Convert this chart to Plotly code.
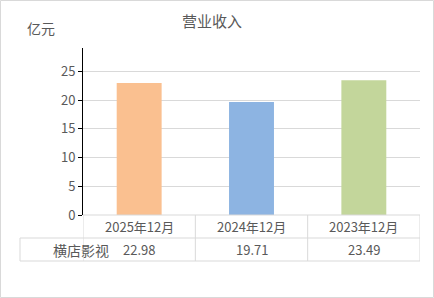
import plotly.graph_objects as go

categories = ["2025年12月", "2024年12月", "2023年12月"]
values = [22.98, 19.71, 23.49]
value_labels = ["22.98", "19.71", "23.49"]
series_name = "横店影视"
colors = ["#FAC090", "#8DB4E2", "#C3D69B"]
title = "营业收入"
unit = "亿元"
y_ticks = [0, 5, 10, 15, 20, 25]

W, H = 434, 298
L, R, T, B = 83, 14, 48, 83
pw, ph = W - L - R, H - T - B

def px(x):
    return (x - L) / pw

def py(y):
    return (H - B - y) / ph

font = "Microsoft YaHei, Noto Sans CJK SC, sans-serif"
grey = "#595959"
line = "#D9D9D9"

xs = list(range(len(categories)))
fig = go.Figure(go.Bar(x=xs, y=values, marker_color=colors, width=0.4,
                       marker_line_width=0, hoverinfo="skip"))

shapes = []
annotations = []
row1, row2, row3 = H - B, H - B + 23, H - B + 46
# horizontal table lines
shapes.append(dict(type="line", xref="paper", yref="paper", x0=0, x1=1, y0=py(row1), y1=py(row1), line=dict(color=line, width=1)))
shapes.append(dict(type="line", xref="paper", yref="paper", x0=px(20), x1=1, y0=py(row2), y1=py(row2), line=dict(color=line, width=1)))
shapes.append(dict(type="line", xref="paper", yref="paper", x0=px(20), x1=1, y0=py(row3), y1=py(row3), line=dict(color=line, width=1)))
shapes.append(dict(type="line", xref="paper", yref="paper", x0=px(20), x1=px(20), y0=py(row2), y1=py(row3), line=dict(color=line, width=1)))
for i in range(len(categories) + 1):
    xv = i - 0.5
    shapes.append(dict(type="line", xref="x", yref="paper", x0=xv, x1=xv, y0=py(row1), y1=py(row3), line=dict(color=line, width=1)))
# outer border
shapes.append(dict(type="rect", xref="paper", yref="paper", x0=px(0.5), x1=px(W - 0.5), y0=py(H - 0.5), y1=py(0.5), line=dict(color=line, width=1)))

for i, (c, v) in enumerate(zip(categories, value_labels)):
    annotations.append(dict(x=i, xref="x", y=py((row1 + row2) / 2), yref="paper", text=c, showarrow=False,
                            font=dict(family=font, size=13, color=grey), yanchor="middle"))
    annotations.append(dict(x=i, xref="x", y=py((row2 + row3) / 2), yref="paper", text=v, showarrow=False,
                            font=dict(family=font, size=13, color=grey), yanchor="middle"))
annotations.append(dict(x=px(50.5), xref="paper", y=py((row2 + row3) / 2), yref="paper", text=series_name, showarrow=False,
                        font=dict(family=font, size=14, color=grey), yanchor="middle"))
annotations.append(dict(x=px(25), xref="paper", y=py(28), yref="paper", text=unit, showarrow=False,
                        font=dict(family=font, size=14, color=grey), yanchor="middle"))
annotations.append(dict(x=px(212), xref="paper", y=py(20), yref="paper", text=title, showarrow=False,
                        font=dict(family=font, size=15, color=grey), yanchor="middle"))

fig.update_layout(
    width=W, height=H, margin=dict(l=L, r=R, t=T, b=B),
    paper_bgcolor="white", plot_bgcolor="white", showlegend=False,
    shapes=shapes, annotations=annotations, bargap=0.6,
    xaxis=dict(range=[-0.5, len(categories) - 0.5], showticklabels=False, showgrid=False, zeroline=False,
               showline=False, ticks="", fixedrange=True),
    yaxis=dict(range=[0, 29.1], tickvals=y_ticks, showgrid=True, gridcolor=line, gridwidth=1,
               zeroline=False, showline=True, linecolor="black", linewidth=1, ticks="outside",
               ticklen=4, tickcolor="black", tickfont=dict(family=font, size=13, color=grey),
               fixedrange=True),
)
fig.write_html("out.html", config={"displayModeBar": False})
